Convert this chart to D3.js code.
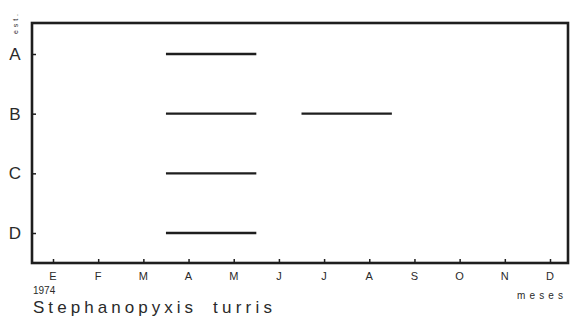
<!DOCTYPE html>
<html><head><meta charset="utf-8">
<script src="https://cdn.jsdelivr.net/npm/d3@7"></script>
<style>body{margin:0;background:#fff}svg{display:block}text{font-family:"Liberation Sans","DejaVu Sans",sans-serif;fill:#2a2a2a}</style>
</head><body>
<svg id="c" width="574" height="324"></svg>
<script>
const months = ["E","F","M","A","M","J","J","A","S","O","N","D"];
const rows = ["A","B","C","D"];
// presence periods: row, start month index, end month index (month centred on tick)
const periodRow   = ["A","B","B","C","D"];
const periodStart = [3, 3, 6, 3, 3];
const periodEnd   = [4, 4, 7, 4, 4];
const yearLabel = "1974";
const species = ["Stephanopyxis","turris"];
const xTitle = "meses";
const yTitle = "est.";

const svg = d3.select("#c");
const L=32, R=568, T=23, B=263;
const x = d3.scaleLinear().domain([0,11]).range([53,550]);
const y = d3.scalePoint().domain(rows).range([54,233]);
const ink="#1e1e1e";

svg.append("rect").attr("x",L).attr("y",T).attr("width",R-L).attr("height",B-T)
  .attr("fill","none").attr("stroke",ink).attr("stroke-width",2.6);

const xAxis = svg.append("g").attr("transform",`translate(0,${B})`)
  .call(d3.axisBottom(x).tickValues(d3.range(12)).tickSize(-4).tickFormat(""));
xAxis.select(".domain").remove();
xAxis.selectAll("line").attr("stroke",ink).attr("stroke-width",1.5);

svg.selectAll("text.mon").data(months).join("text").attr("class","mon")
  .attr("x",(d,i)=>x(i)).attr("y",280).attr("text-anchor","middle")
  .attr("font-size",11).attr("fill","#444").text(d=>d);

const yAxis = svg.append("g").attr("transform",`translate(${L},0)`)
  .call(d3.axisLeft(y).tickSize(-4).tickFormat(""));
yAxis.select(".domain").remove();
yAxis.selectAll("line").attr("stroke",ink).attr("stroke-width",1.5);

svg.selectAll("text.row").data(rows).join("text").attr("class","row")
  .attr("x",15).attr("y",d=>y(d)+6).attr("text-anchor","middle")
  .attr("font-size",17).attr("fill","#444").text(d=>d);

svg.selectAll("line.bar").data(periodRow).join("line").attr("class","bar")
  .attr("x1",(d,i)=>x(periodStart[i]-0.5)).attr("x2",(d,i)=>x(periodEnd[i]+0.5))
  .attr("y1",d=>y(d)).attr("y2",d=>y(d))
  .attr("stroke",ink).attr("stroke-width",2.4);

svg.append("text").attr("x",33).attr("y",294).attr("font-size",10).attr("fill","#444").text(yearLabel);
svg.append("text").attr("x",33).attr("y",313).attr("font-size",17).attr("fill","#333")
  .attr("textLength",160).attr("lengthAdjust","spacing").text(species[0]);
svg.append("text").attr("x",213).attr("y",313).attr("font-size",17).attr("fill","#333")
  .attr("textLength",59).attr("lengthAdjust","spacing").text(species[1]);
svg.append("text").attr("x",517).attr("y",299).attr("font-size",10).attr("fill","#444")
  .attr("textLength",46).attr("lengthAdjust","spacing").text(xTitle);
svg.append("text").attr("transform","translate(18,34) rotate(-90)")
  .attr("font-size",7).attr("fill","#666").attr("textLength",20).text(yTitle);
</script>
</body></html>
